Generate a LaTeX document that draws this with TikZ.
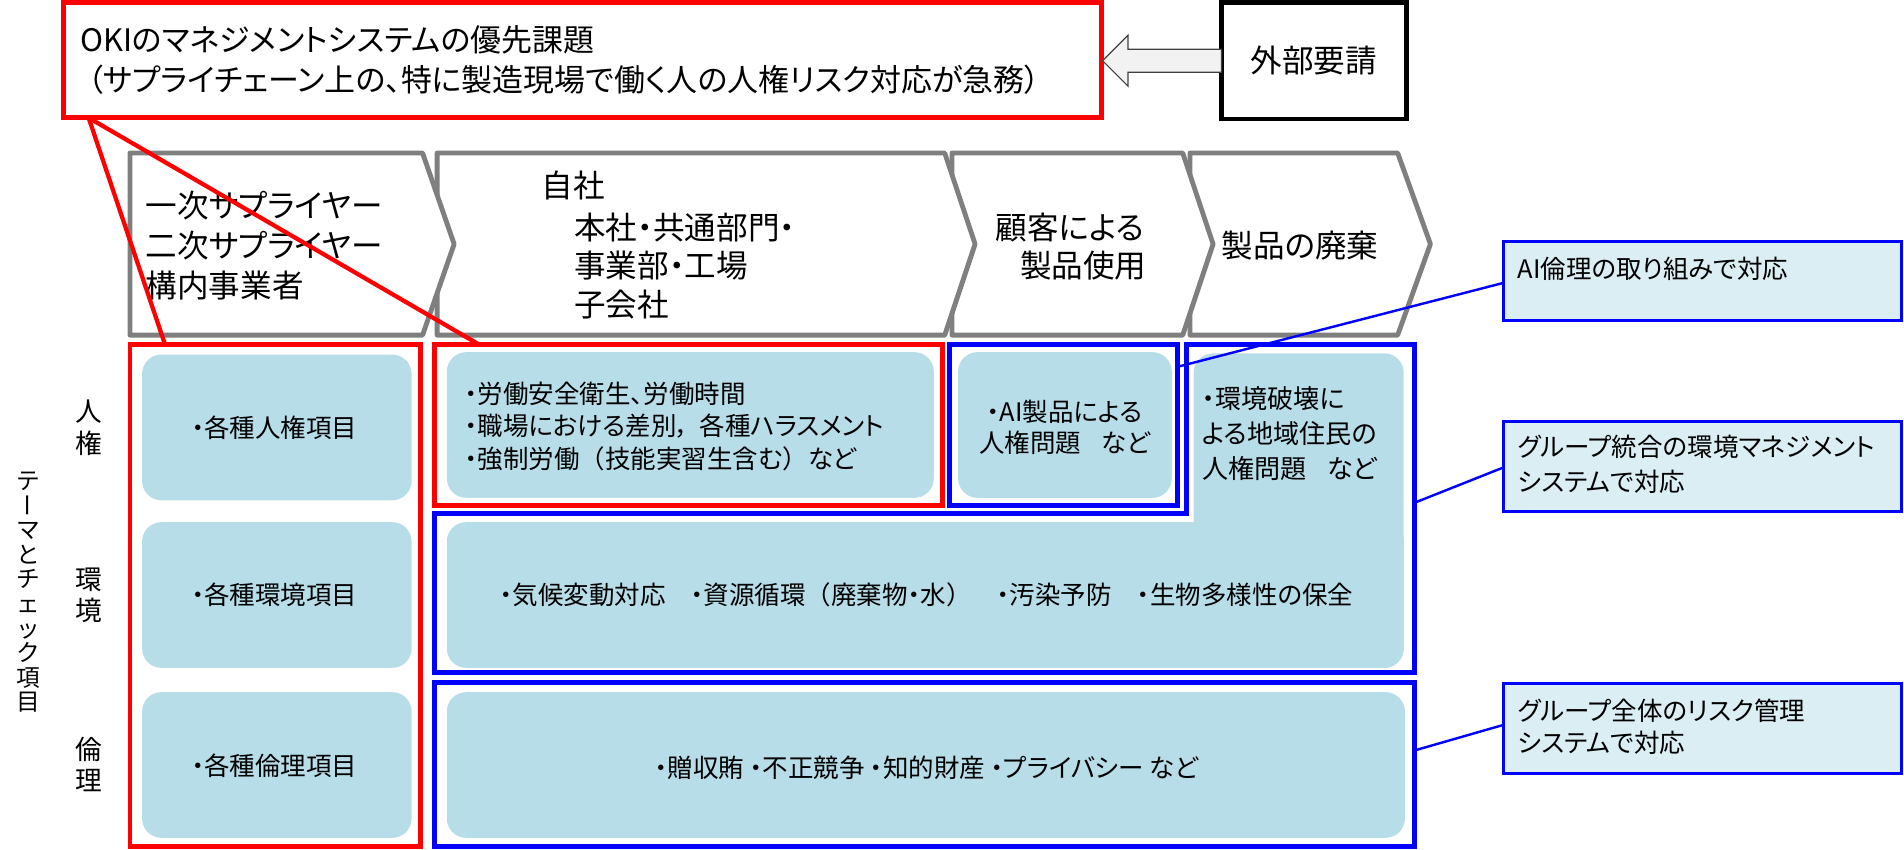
\documentclass[tikz,border=0pt]{standalone}
\usepackage{fontspec}
\setmainfont{Noto Sans CJK JP}[RawFeature=+palt]
\newfontfamily\fwfont{Noto Sans CJK JP}
\usetikzlibrary{calc}
\definecolor{cred}{RGB}{255,0,0}
\definecolor{cblue}{RGB}{0,0,255}
\definecolor{lblue}{RGB}{183,221,232}
\definecolor{cfill}{RGB}{219,238,244}
\definecolor{cgray}{RGB}{127,127,127}
\definecolor{afill}{RGB}{242,242,242}
\definecolor{aline}{RGB}{64,64,64}
\begin{document}
\begin{tikzpicture}[x=1pt,y=-1pt,
  fs/.style={font=\fontsize{#1pt}{#1pt}\selectfont, text height={0.88*#1pt}, text depth={0.12*#1pt}, inner sep=0pt, outer sep=0pt},
  frame/.style={inner sep=0pt, outer sep=0pt, anchor=north west, line width=4pt},
  redframe/.style={frame, draw=cred},
  blueframe/.style={frame, draw=cblue},
  softbox/.style={inner sep=0pt, outer sep=0pt, anchor=north west, fill=lblue, rounded corners=16pt},
  callout/.style={inner sep=0pt, outer sep=0pt, anchor=north west, draw=cblue, line width=2.5pt, fill=cfill},
  chev/.style={draw=cgray, line width=4pt, fill=white, line join=round},
  redline/.style={draw=cred, line width=3.5pt},
  blueline/.style={draw=cblue, line width=2pt},
  bluepath/.style={draw=cblue, line width=4pt},
  blockarrow/.style={draw=aline, line width=1pt, fill=afill}
]
\useasboundingbox (0,0) rectangle (1568,700);

% ---------- header ----------
\node[redframe, minimum width=855pt, minimum height=95pt] (hdr) at (52,2) {};
\node[frame, draw=black, minimum width=152pt, minimum height=96pt] (ext) at (1006,2) {};
\node[fs=25.5, anchor=west] (h1) at (66,33) {OKIのマネジメントシステムの優先課題};
\node[fs=25.5, anchor=west] (h2) at (72,66) {（サプライチェーン上の、特に製造現場で働く人の人権リスク対応が急務）};
\node[fs=26] (exttxt) at (ext.center) {外部要請};
\draw[blockarrow] ($(ext.west)+(0,-9.5)$) -- ++(-77,0) -- ++(0,-11.5) -- ++(-21,21) -- ++(21,21) -- ++(0,-11.5) -- ++(77,0) -- cycle;

% ---------- chevrons ----------
\draw[chev] (980,126) -- (1151,126) -- (1178,201) -- (1151,276) -- (980,276) -- cycle;
\draw[chev] (784,126) -- (974,126) -- (999,201) -- (974,276) -- (784,276) -- cycle;
\draw[chev] (360,126) -- (778,126) -- (803,201) -- (778,276) -- (360,276) -- cycle;
\draw[chev] (107,126) -- (348,126) -- (374,201) -- (348,276) -- (107,276) -- cycle;

\node[fs=26, anchor=west] (c1a) at (120,169) {一次サプライヤー};
\node[fs=26, anchor=west] (c1b) at (120,202) {二次サプライヤー};
\node[fs=26, anchor=west] (c1c) at (120,235) {構内事業者};
\node[fs=26, anchor=west] (c2a) at (446,153) {自社};
\node[fs=26, anchor=west] (c2b) at (473,187) {本社・共通部門・};
\node[fs=26, anchor=west] (c2c) at (473,219) {事業部・工場};
\node[fs=26, anchor=west] (c2d) at (473,251) {子会社};
\node[fs=26, anchor=west] (c3a) at (820,187) {顧客による};
\node[fs=26, anchor=west] (c3b) at (840,219) {製品使用};
\node[fs=26, anchor=west] (c4a) at (1006,202) {製品の廃棄};

% ---------- soft boxes ----------
\node[softbox, minimum width=222pt, minimum height=120pt] (f1) at (117,292) {};
\node[softbox, minimum width=222pt, minimum height=120pt] (f2) at (117,430) {};
\node[softbox, minimum width=222pt, minimum height=120pt] (f3) at (117,570) {};
\node[softbox, minimum width=401pt, minimum height=120pt] (fc2) at (368,290) {};
\node[softbox, minimum width=176pt, minimum height=120pt] (fai) at (789,290) {};
\node[softbox, minimum width=173pt, minimum height=259pt] (fc4) at (983,291) {};
\node[softbox, minimum width=788pt, minimum height=120pt] (fr2) at (368,430) {};
\node[softbox, minimum width=789pt, minimum height=120pt] (fr3) at (368,570) {};

% ---------- frames ----------
\node[redframe, minimum width=239pt, minimum height=413pt] (c1frame) at (107,284) {};
\node[redframe, minimum width=418pt, minimum height=132pt] (c2frame) at (358,284) {};
\node[blueframe, minimum width=188pt, minimum height=132pt] (aiframe) at (782,284) {};
\coordinate (Lnw) at (977,284);
\coordinate (Lne) at (1165,284);
\draw[bluepath] (Lnw) -- (Lne) -- (1165,554) -- (358,554) -- (358,423) -- (977,423) -- cycle;
\node[blueframe, minimum width=807pt, minimum height=135pt] (r3frame) at (358,562) {};

% ---------- box texts ----------
\node[fs=21] (t1) at (226,352) {・各種人権項目};
\node[fs=21] (t2) at (226,490) {・各種環境項目};
\node[fs=21] (t3) at (226,631) {・各種倫理項目};

\node[fs=21, anchor=west] (p1) at (383,324) {・労働安全衛生、労働時間};
\node[fs=21, anchor=west] (p2) at (383,351) {・職場における差別，\hspace{0.4em}各種ハラスメント};
\node[fs=21, anchor=west] (p3) at (383,378) {・強制労働{\fwfont（}技能実習生含む{\fwfont）}など};

\node[fs=21] (a1) at (877,339) {・AI製品による};
\node[fs=21] (a2) at (877,365) {人権問題\hspace{0.8em}など};

\node[fs=21.5, anchor=west] (e1) at (990,328) {・環境破壊に};
\node[fs=21.5, anchor=west] (e2) at (990,357) {よる地域住民の};
\node[fs=21.5, anchor=west] (e3) at (990,386) {人権問題\hspace{0.8em}など};

\node[fs=21] (r2) at (763,490) {・気候変動対応　・資源循環{\fwfont（}廃棄物・水{\fwfont）}　・汚染予防　・生物多様性の保全};
\node[fs=21] (r3) at (763,632) {・贈収賄 ・不正競争 ・知的財産 ・プライバシー など};

% ---------- row labels ----------
\node[fs=22] (l1a) at (73,339) {人};
\node[fs=22] (l1b) at (73,365) {権};
\node[fs=22] (l2a) at (73,477) {環};
\node[fs=22] (l2b) at (73,503) {境};
\node[fs=22] (l3a) at (73,617) {倫};
\node[fs=22] (l3b) at (73,643) {理};

% ---------- vertical title ----------
\node[fs=19.5] (v0) at (23,396) {テ};
\node[fs=19.5, rotate=-90] (v1) at (23,416.2) {ー};
\node[fs=19.5] (v2) at (23,436.4) {マ};
\node[fs=19.5] (v3) at (23,456.6) {と};
\node[fs=19.5] (v4) at (23,476.8) {チ};
\node[fs=19.5] (v5) at (23,497) {ェ};
\node[fs=19.5] (v6) at (23,517.2) {ッ};
\node[fs=19.5] (v7) at (23,537.4) {ク};
\node[fs=19.5] (v8) at (23,557.6) {項};
\node[fs=19.5] (v9) at (23,577.8) {目};

% ---------- red zoom lines ----------
\draw[redline] ($(hdr.south west)+(21,0)$) -- ($(c1frame.north west)+(29,0)$);
\draw[redline] ($(hdr.south west)+(21,0)$) -- ($(c2frame.north west)+(37,0)$);

% ---------- callouts ----------
\node[callout, minimum width=328pt, minimum height=65pt] (cal1) at (1238,199) {};
\node[callout, minimum width=328pt, minimum height=74pt] (cal2) at (1238,347) {};
\node[callout, minimum width=328pt, minimum height=74pt] (cal3) at (1238,563) {};
\node[fs=21, anchor=west] (k1) at (1250,221) {AI倫理の取り組みで対応};
\node[fs=21, anchor=west] (k2a) at (1250,368) {グループ統合の環境マネジメント};
\node[fs=21, anchor=west] (k2b) at (1250,397) {システムで対応};
\node[fs=21, anchor=west] (k3a) at (1250,585) {グループ全体のリスク管理};
\node[fs=21, anchor=west] (k3b) at (1250,612) {システムで対応};

\draw[blueline] ($(cal1.north west)+(0,34)$) -- ($(aiframe.north east)+(0,18)$);
\draw[blueline] ($(cal2.north west)+(0,38)$) -- ($(Lne)+(0,130)$);
\draw[blueline] ($(cal3.north west)+(0,34)$) -- ($(r3frame.north east)+(0,56)$);
\end{tikzpicture}
\end{document}
